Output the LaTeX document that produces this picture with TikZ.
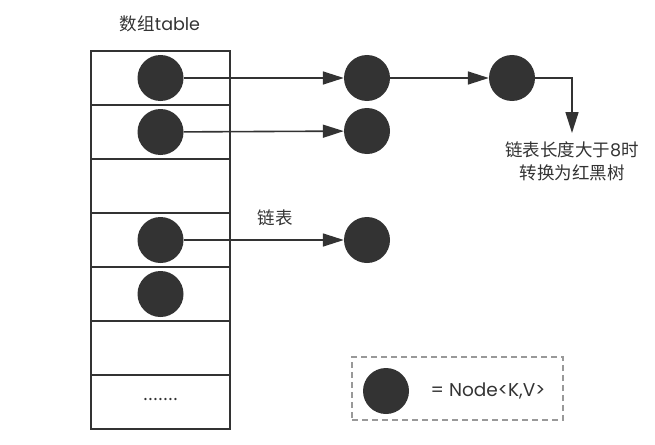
\documentclass[tikz,border=0pt]{standalone}
\usepackage{fontspec}
\setmainfont{Noto Sans CJK SC}
\newfontfamily\latinfont{Poppins}
\usetikzlibrary{arrows.meta}
\definecolor{inkgray}{HTML}{333333}
\definecolor{dashgray}{HTML}{999999}
\begin{document}
\begin{tikzpicture}[x=1pt,y=-1pt,
  every node/.style={text=inkgray,font=\fontsize{17.5}{23}\selectfont},
  entry/.style={circle,fill=inkgray,minimum size=46pt,inner sep=0pt},
  link/.style={draw=inkgray,line width=1.6pt,-{Triangle[length=21pt,width=13pt]}},
  slot/.style={draw=inkgray,line width=2pt,minimum width=139pt,minimum height=54pt,inner sep=0pt}]
  \useasboundingbox (0,0) rectangle (655,444);
  % the array
  \node (title) at (160,24) {数组{\latinfont table}};
  \foreach \i in {1,...,7}
    \node[slot] (row\i) at (160.5,{51+54*(\i-0.5)}) {};
  \node (dots) at (161,400) {.......};
  % buckets and their lists
  \node[entry] (e1) at (row1) {};
  \node[entry] (e2) at (row2) {};
  \node[entry] (e4) at (row4) {};
  \node[entry] (e5) at (row5) {};
  \node[entry] (n12) at (367,78) {};
  \node[entry] (n13) at (512,78) {};
  \node[entry] (n22) at (367,131) {};
  \node[entry] (n42) at (367,240) {};
  \node (listlabel) at (275,218) {链表};
  \node[align=center,anchor=north,inner xsep=4pt,inner ysep=9pt] (tree) at (572,133)
    {链表长度大于{\latinfont 8}时\\转换为红黑树};
  \draw[link] (e1) -- (n12);
  \draw[link] (n12) -- (n13);
  \draw[link] (n13) -| (tree.north);
  \draw[link] (e2) -- (n22);
  \draw[link] (e4) -- (n42);
  % legend
  \node[draw=dashgray,dash pattern=on 6pt off 4pt,line width=1.5pt,
    minimum width=211pt,minimum height=63pt] (legend) at (457.5,388.5) {};
  \node[entry] (key) at (386,391) {};
  \node[font=\latinfont\fontsize{18.5}{23}\selectfont] (keytext) at (488,391) {= Node<K,V>};
\end{tikzpicture}
\end{document}
